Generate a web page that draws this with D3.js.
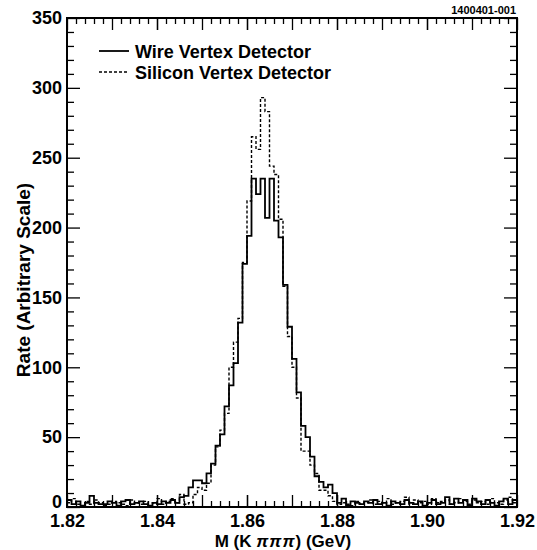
<!DOCTYPE html>
<html>
<head>
<meta charset="utf-8">
<script src="https://cdn.jsdelivr.net/npm/d3@7"></script>
<style>
  body { margin: 0; background: #fff; }
  svg text { font-family: "Liberation Sans", Arial, Helvetica, sans-serif; font-weight: bold; fill: #000; }
</style>
</head>
<body>
<svg id="chart" width="537" height="550"></svg>
<script>
// histogram: 1 MeV bins from 1.820 to 1.920 GeV
const massLow = 1.82
const binWidth = 0.001

const wireCounts = [
  5, 2, 4, 1, 3, 8, 3, 2, 2, 4,
  3, 1, 4, 5, 2, 3, 4, 2, 1, 3,
  2, 4, 3, 5, 3, 7, 8, 14, 19, 19,
  17, 24, 31, 44, 52, 72, 87, 103, 132, 174,
  194, 235, 224, 235, 207, 235, 205, 193, 159, 129,
  106, 82, 58, 50, 36, 22, 18, 14, 16, 10,
  3, 6, 1, 4, 3, 2, 4, 3, 5, 2,
  3, 1, 4, 3, 2, 5, 3, 2, 4, 1,
  3, 5, 2, 3, 7, 2, 6, 3, 5, 1,
  6, 4, 2, 5, 3, 1, 4, 6, 2, 5
]

const siliconCounts = [
  3, 6, 2, 1, 4, 2, 5, 3, 1, 2,
  4, 3, 2, 1, 5, 3, 2, 4, 1, 3,
  6, 2, 4, 6, 3, 9, 2, 3, 9, 14,
  12, 17, 30, 43, 55, 67, 100, 118, 135, 175,
  219, 265, 256, 293, 283, 244, 238, 206, 158, 122,
  100, 78, 40, 40, 30, 24, 12, 12, 8, 4,
  2, 3, 2, 1, 4, 2, 3, 5, 2, 4,
  3, 6, 2, 3, 4, 7, 2, 5, 3, 4,
  2, 6, 3, 4, 5, 2, 3, 6, 4, 2,
  5, 3, 4, 2, 6, 3, 2, 5, 7, 3
]

const xTickLabels = ["1.82", "1.84", "1.86", "1.88", "1.90", "1.92"]
const yTickLabels = ["0", "50", "100", "150", "200", "250", "300", "350"]
const seriesNames = ["Wire Vertex Detector", "Silicon Vertex Detector"]

var margin = {top: 18, right: 20, bottom: 43, left: 67},
    width = 537 - margin.left - margin.right,
    height = 550 - margin.top - margin.bottom

var svg = d3.select("#chart")
var g = svg.append("g")
    .attr("transform", "translate(" + margin.left + "," + margin.top + ")")

var x = d3.scaleLinear().domain([1.82, 1.92]).range([0, width])
var y = d3.scaleLinear().domain([0, 350]).range([height, 0])

var xMajor = xTickLabels.map(Number)
var xMid = d3.range(183, 192).map(d => d / 100)
var xMinor = d3.range(0, 51).map(d => 1.82 + d * 0.002).filter(d => Math.abs(d * 100 - Math.round(d * 100)) > 1e-6)
var yMajor = yTickLabels.map(Number)
var yMinor = d3.range(0, 351, 10).filter(d => d % 50 !== 0)

function styleAxis(sel) {
  sel.select(".domain").remove()
  sel.selectAll("line").attr("stroke", "#000").attr("stroke-width", 1.3)
}

// bottom axis, ticks pointing inward
g.append("g").attr("transform", "translate(0," + height + ")")
  .call(d3.axisBottom(x).tickValues(xMajor).tickSize(-12).tickPadding(7).tickFormat((d, i) => xTickLabels[i]))
  .call(styleAxis)
  .selectAll("text").style("font-size", "18px").style("font-family", null)
g.append("g").attr("transform", "translate(0," + height + ")")
  .call(d3.axisBottom(x).tickValues(xMid).tickSize(-12).tickFormat(""))
  .call(styleAxis)
g.append("g").attr("transform", "translate(0," + height + ")")
  .call(d3.axisBottom(x).tickValues(xMinor).tickSize(-6).tickFormat(""))
  .call(styleAxis)

// top axis
g.append("g")
  .call(d3.axisTop(x).tickValues(xMajor.concat(xMid)).tickSize(-12).tickFormat(""))
  .call(styleAxis)
g.append("g")
  .call(d3.axisTop(x).tickValues(xMinor).tickSize(-6).tickFormat(""))
  .call(styleAxis)

// left axis
var yAxisG = g.append("g")
  .call(d3.axisLeft(y).tickValues(yMajor).tickSize(-13).tickPadding(5).tickFormat((d, i) => yTickLabels[i]))
  .call(styleAxis)
yAxisG.selectAll("text").style("font-size", "18px").style("font-family", null)
  .attr("dy", d => d === 0 ? "0.0em" : "0.32em")
g.append("g")
  .call(d3.axisLeft(y).tickValues(yMinor).tickSize(-7).tickFormat(""))
  .call(styleAxis)

// right axis
g.append("g").attr("transform", "translate(" + width + ",0)")
  .call(d3.axisRight(y).tickValues(yMajor).tickSize(-13).tickFormat(""))
  .call(styleAxis)
g.append("g").attr("transform", "translate(" + width + ",0)")
  .call(d3.axisRight(y).tickValues(yMinor).tickSize(-7).tickFormat(""))
  .call(styleAxis)

// histograms as step lines
function stepPoints(counts) {
  var pts = counts.map((c, i) => [massLow + i * binWidth, c])
  pts.push([massLow + counts.length * binWidth, counts[counts.length - 1]])
  return pts
}
var line = d3.line()
  .x(d => x(d[0]))
  .y(d => y(d[1]))
  .curve(d3.curveStepAfter)

g.append("path")
  .datum(stepPoints(siliconCounts))
  .attr("d", line)
  .attr("fill", "none")
  .attr("stroke", "#000")
  .attr("stroke-width", 1.4)
  .attr("stroke-dasharray", "3,2")

g.append("path")
  .datum(stepPoints(wireCounts))
  .attr("d", line)
  .attr("fill", "none")
  .attr("stroke", "#000")
  .attr("stroke-width", 1.8)

// frame
g.append("rect")
  .attr("width", width).attr("height", height)
  .attr("fill", "none").attr("stroke", "#000").attr("stroke-width", 2)

// legend
var legend = g.append("g").attr("transform", "translate(32,33)")
seriesNames.forEach(function(name, i) {
  var row = legend.append("g").attr("transform", "translate(0," + (i * 21) + ")")
  row.append("line")
    .attr("x1", 0).attr("x2", 30).attr("y1", 0).attr("y2", 0)
    .attr("stroke", "#000")
    .attr("stroke-width", i === 0 ? 1.8 : 1.4)
    .attr("stroke-dasharray", i === 0 ? null : "3,2")
  row.append("text")
    .attr("x", 36).attr("y", 6.5)
    .style("font-size", "18px")
    .text(name)
})

// axis titles
var xTitle = svg.append("text")
  .attr("x", 283).attr("y", 547)
  .attr("text-anchor", "middle")
  .style("font-size", "17px")
xTitle.append("tspan").text("M (K ")
xTitle.append("tspan").style("font-style", "italic").attr("letter-spacing", "1").text("πππ")
xTitle.append("tspan").text(") (GeV)")

svg.append("text")
  .attr("transform", "translate(30,280) rotate(-90)")
  .attr("text-anchor", "middle")
  .style("font-size", "19px")
  .text("Rate (Arbitrary Scale)")

svg.append("text")
  .attr("x", 516).attr("y", 14)
  .attr("text-anchor", "end")
  .style("font-size", "11px")
  .text("1400401-001")
</script>
</body>
</html>
